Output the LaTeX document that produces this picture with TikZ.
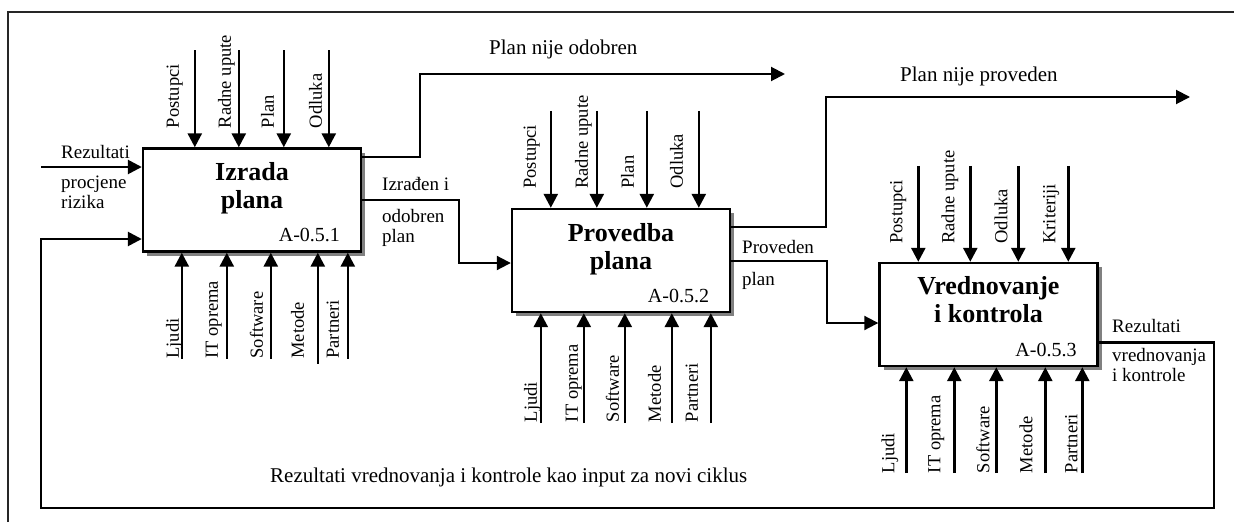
\documentclass[tikz,border=0pt]{standalone}
\usepackage{fontspec}
\setmainfont{Liberation Serif}
\usetikzlibrary{arrows.meta, positioning, calc, shadows}

\begin{document}
\begin{tikzpicture}[
    x=1pt, y=-1pt,
    font=\fontsize{19}{20}\selectfont,
    act/.style={
      draw, line width=2.4pt, fill=white,
      minimum width=218pt, minimum height=103pt, inner sep=0pt,
      drop shadow={shadow xshift=4pt, shadow yshift=-4pt, fill=black!50, opacity=1},
    },
    ttl/.style={
      font=\bfseries\fontsize{26}{28}\selectfont,
      align=center, inner sep=0pt, anchor=north,
      execute at begin node=\strut,
    },
    code/.style={font=\fontsize{20}{22}\selectfont, anchor=base east, inner sep=0pt},
    arr/.style={line width=2.6pt, -{Triangle[length=14pt, width=14pt]}},
    flow/.style={arr, line width=2pt},
    vlab/.style={font=\fontsize{18.5}{20}\selectfont, rotate=90, anchor=base west, inner sep=0pt},
    lab/.style={anchor=base west, inner sep=0pt},
    labs/.style={anchor=north west, inner sep=0pt, align=left, execute at begin node=\strut},
    note/.style={font=\fontsize{21}{24}\selectfont, anchor=base west, inner sep=0pt},
  ]
  \useasboundingbox (0,0) rectangle (1234,522);

  % frame
  \draw[line width=1.6pt, black!85] (8,522) -- (8,12) -- (1234,12);

  % activities
  \node[act] (izrada) at (252,200) {};
  \node[act] (provedba) at (621,260.5) {};
  \node[act] (vred) at (988.5,314.5) {};

  \node[ttl] (izrada-ttl) at ($(izrada.north)+(0,15)$) {Izrada\\plana};
  \node[ttl] (provedba-ttl) at ($(provedba.north)+(0,15)$) {Provedba\\plana};
  \node[ttl] (vred-ttl) at ($(vred.north)+(0,14)$) {Vrednovanje\\i kontrola};

  \node[code] (izrada-id) at ($(izrada.south east)+(-22,-11)$) {A-0.5.1};
  \node[code] (provedba-id) at ($(provedba.south east)+(-22,-11)$) {A-0.5.2};
  \node[code] (vred-id) at ($(vred.south east)+(-22,-11)$) {A-0.5.3};

  % controls
  \foreach \dx/\gap/\txt [count=\i] in {53/16/Postupci, 97/8/Radne upute, 142/10/Plan, 187/7/Odluka}{
    \coordinate (izrada-c\i) at ($(izrada.north west)+(\dx,-97)$);
    \draw[arr] (izrada-c\i) -- (izrada-c\i |- izrada.north);
    \node[vlab] (izrada-cl\i) at ($(izrada-c\i |- izrada.north)+(-\gap,-19)$) {\txt};
  }
  \foreach \dx/\gap/\txt [count=\i] in {40/15/Postupci, 86/9/Radne upute, 136/13/Plan, 188/16/Odluka}{
    \coordinate (provedba-c\i) at ($(provedba.north west)+(\dx,-97)$);
    \draw[arr] (provedba-c\i) -- (provedba-c\i |- provedba.north);
    \node[vlab] (provedba-cl\i) at ($(provedba-c\i |- provedba.north)+(-\gap,-19)$) {\txt};
  }
  \foreach \dx/\gap/\txt [count=\i] in {40/16/Postupci, 92/16/Radne upute, 140/11/Odluka, 190/13/Kriteriji}{
    \coordinate (vred-c\i) at ($(vred.north west)+(\dx,-96)$);
    \draw[arr] (vred-c\i) -- (vred-c\i |- vred.north);
    \node[vlab] (vred-cl\i) at ($(vred-c\i |- vred.north)+(-\gap,-18)$) {\txt};
  }

  % mechanisms
  \foreach \dx/\len/\gap/\txt [count=\i] in {40/106/3/Ljudi, 85/106/9/IT oprema, 129/106/8/Software, 176/111/14/Metode, 206/106/9/Partneri}{
    \coordinate (izrada-m\i) at ($(izrada.south west)+(\dx,\len)$);
    \draw[arr] (izrada-m\i) -- (izrada-m\i |- izrada.south);
    \node[vlab] (izrada-ml\i) at ($(izrada-m\i |- izrada.south)+(-\gap,106)$) {\txt};
  }
  \foreach \dx/\gap/\txt [count=\i] in {30/4/Ljudi, 73/6/IT oprema, 114/6/Software, 161/11/Metode, 200/13/Partneri}{
    \coordinate (provedba-m\i) at ($(provedba.south west)+(\dx,110)$);
    \draw[arr] (provedba-m\i) -- (provedba-m\i |- provedba.south);
    \node[vlab] (provedba-ml\i) at ($(provedba-m\i)+(-\gap,-1)$) {\txt};
  }
  \foreach \dx/\gap/\txt [count=\i] in {28/12/Ljudi, 76/14/IT oprema, 118/7/Software, 167/13/Metode, 204/5/Partneri}{
    \coordinate (vred-m\i) at ($(vred.south west)+(\dx,106)$);
    \draw[arr] (vred-m\i) -- (vred-m\i |- vred.south);
    \node[vlab] (vred-ml\i) at ($(vred-m\i)+(-\gap,0)$) {\txt};
  }

  % inputs and outputs
  \coordinate (rez-in) at (41,167);
  \draw[arr] (rez-in) -- (rez-in -| izrada.west);

  \coordinate (odb-turn) at (420,74);
  \coordinate (odb-end) at (785,74);
  \draw[flow] ($(izrada.north east)+(0,10)$) -| (odb-turn) -- (odb-end);
  \draw[flow] (izrada.east) -- ++(97,0) |- ($(provedba.west)+(0,2.5)$);

  \coordinate (prov-turn) at (826,97);
  \coordinate (prov-end) at (1190,97);
  \draw[flow] ($(provedba.north east)+(0,19)$) -| (prov-turn) -- (prov-end);
  \draw[flow] (provedba.east) -- ++(96,0) |- ($(vred.west)+(0,8.5)$);

  % feedback loop
  \coordinate (fb-a) at (1214,508);
  \coordinate (fb-b) at (41,239);
  \draw[arr] ($(vred.south east)+(0,-25)$) -| (fb-a) -| (fb-b) -- (fb-b -| izrada.west);

  % labels
  \node[note] (odb-lab) at (489,54) {Plan nije odobren};
  \node[note] (prov-lab) at (900,81) {Plan nije proveden};
  \node[note] (fb-lab) at (270,482) {Rezultati vrednovanja i kontrole kao input za novi ciklus};
  \node[lab] (rez-lab) at (61,158) {Rezultati};
  \node[labs] (rez-lab2) at (61,176) {procjene\\rizika};
  \node[lab] (izr-lab) at (382,190) {Izrađen i};
  \node[labs] (izr-lab2) at (382,209) {odobren\\plan};
  \node[lab] (pr-lab) at (742,253) {Proveden};
  \node[lab] (pr-lab2) at (742,285) {plan};
  \node[lab] (vr-lab) at (1112,332) {Rezultati};
  \node[labs] (vr-lab2) at (1112,348) {vrednovanja\\i kontrole};
\end{tikzpicture}
\end{document}
